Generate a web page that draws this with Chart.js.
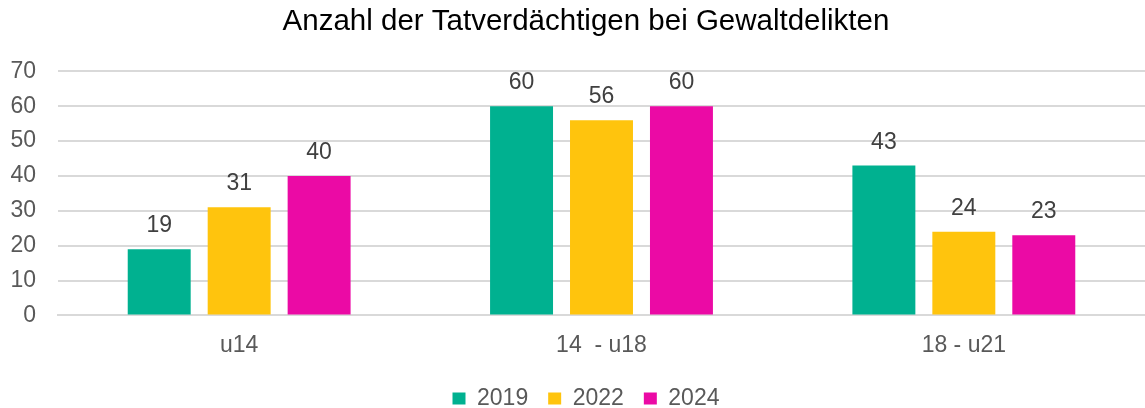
<!DOCTYPE html>
<html>
<head>
    <title>Gewaltdelikte</title>
    <script src="https://cdn.jsdelivr.net/npm/chart.js"></script>
    <style>
        body { margin: 0; background: #fff; }
        .chart-container { width: 1145px; height: 408px; }
    </style>
</head>
<body>
    <div class="chart-container">
        <canvas id="crimeChart"></canvas>
    </div>
    <script>
        const categories = ['u14', '14  - u18', '18 - u21'];
        const years = ['2019', '2022', '2024'];
        const values2019 = [19, 60, 43];
        const values2022 = [31, 56, 24];
        const values2024 = [40, 60, 23];
        const colors = ['#00B190', '#FFC40D', '#EB0AA5'];
        const fontFamily = '"Liberation Sans", Arial, sans-serif';

        // draws the numbers above each bar
        const valueLabels = {
            id: 'valueLabels',
            afterDatasetsDraw(chart) {
                const ctx = chart.ctx;
                ctx.save();
                ctx.font = '23px ' + fontFamily;
                ctx.fillStyle = '#404040';
                ctx.textAlign = 'center';
                ctx.textBaseline = 'alphabetic';
                chart.data.datasets.forEach((ds, i) => {
                    chart.getDatasetMeta(i).data.forEach((bar, j) => {
                        ctx.fillText(ds.data[j], bar.x, bar.y - 17);
                    });
                });
                ctx.restore();
            }
        };

        const ctx = document.getElementById('crimeChart').getContext('2d');
        new Chart(ctx, {
            type: 'bar',
            data: {
                labels: categories,
                datasets: [
                    { label: years[0], data: values2019, backgroundColor: colors[0] },
                    { label: years[1], data: values2022, backgroundColor: colors[1] },
                    { label: years[2], data: values2024, backgroundColor: colors[2] }
                ]
            },
            options: {
                responsive: true,
                maintainAspectRatio: false,
                animation: false,
                categoryPercentage: 0.662,
                barPercentage: 0.7875,
                layout: { padding: { left: 27, right: 0, top: 0, bottom: -12 } },
                plugins: {
                    title: {
                        display: true,
                        text: 'Anzahl der Tatverdächtigen bei Gewaltdelikten',
                        color: '#000',
                        font: { family: fontFamily, size: 29.5, weight: 'normal' },
                        padding: { top: 4, bottom: 32 }
                    },
                    legend: {
                        position: 'bottom',
                        labels: {
                            color: '#595959',
                            boxWidth: 13,
                            boxHeight: 12,
                            padding: 20,
                            font: { family: fontFamily, size: 23 }
                        }
                    },
                    tooltip: { enabled: false }
                },
                scales: {
                    x: {
                        grid: { display: false },
                        border: { color: '#d9d9d9', width: 2 },
                        ticks: {
                            color: '#595959',
                            padding: 8,
                            font: { family: fontFamily, size: 23 }
                        }
                    },
                    y: {
                        min: 0,
                        max: 70,
                        afterFit(scale) {
                            scale.width = 31;
                            // labels sit left of the narrow axis box, so don't clip them to it
                            scale._computeLabelArea = () => undefined;
                        },
                        grid: { color: '#d9d9d9', lineWidth: 2, drawTicks: false },
                        border: { display: false },
                        ticks: {
                            stepSize: 10,
                            color: '#595959',
                            padding: 22,
                            font: { family: fontFamily, size: 23 }
                        }
                    }
                }
            },
            plugins: [valueLabels]
        });
    </script>
</body>
</html>
